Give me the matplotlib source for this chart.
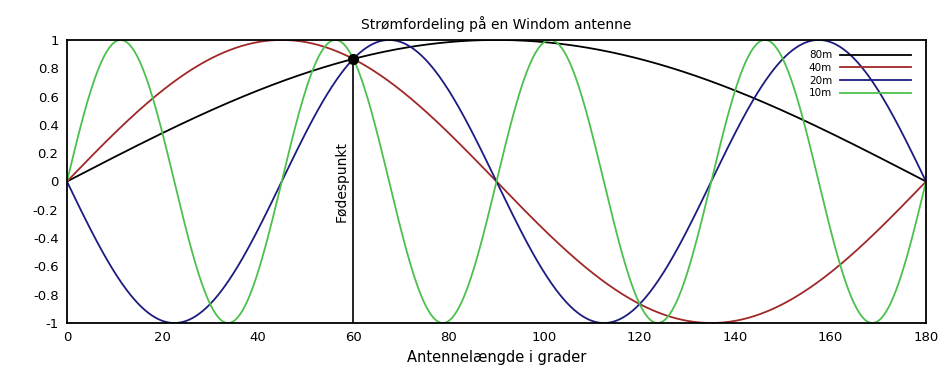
import numpy as np
import matplotlib.pyplot as plt

# Strømfordeling på en Windom antenne: current along the wire for each band
bands = ['80m', '40m', '20m', '10m']
harmonics = [1, 2, 4, 8]          # half-waves along the antenna
phase_sign = [1, 1, -1, 1]        # 20m curve starts going negative
colors = ['#000000', '#a02828', '#1c1c80', '#4cc04c']

feed_point = 60
xticks = [0, 20, 40, 60, 80, 100, 120, 140, 160, 180]
yticks = [-1, -0.8, -0.6, -0.4, -0.2, 0, 0.2, 0.4, 0.6, 0.8, 1]

deg = np.linspace(0, 180, 721)

fig = plt.figure(figsize=(9.43, 3.70), dpi=100)
ax = fig.add_axes([0.071, 0.127, 0.911, 0.765])

for band, n, s, c in zip(bands, harmonics, phase_sign, colors):
    ax.plot(deg, s * np.sin(np.radians(n * deg)), color=c, lw=1.3, label=band)

# feed point line + dot
feed_val = np.sin(np.radians(feed_point))
ax.plot([feed_point, feed_point], [-1, feed_val], color='black', lw=1.2)
ax.plot(feed_point, feed_val, 'o', color='black', ms=7)
ax.text(feed_point - 2.4, 0.0, 'Fødespunkt', rotation=90, ha='center', va='center', fontsize=10)

ax.set_xlim(0, 180)
ax.set_ylim(-1, 1)
ax.set_xticks(xticks)
ax.set_yticks(yticks)
ax.set_yticklabels([f'{v:g}' for v in yticks])
ax.tick_params(length=0, labelsize=9.5, pad=6)
for sp in ax.spines.values():
    sp.set_linewidth(1.3)

ax.set_title('Strømfordeling på en Windom antenne', fontsize=10, pad=8)
ax.set_xlabel('Antennelængde i grader', fontsize=10.5, labelpad=4)

leg = ax.legend(loc='upper right', bbox_to_anchor=(0.99, 0.985), frameon=False,
                markerfirst=False, fontsize=7.5, handlelength=6.8, labelspacing=0.25,
                handletextpad=0.8, borderaxespad=0.2)

plt.savefig('out.png', dpi=100)
